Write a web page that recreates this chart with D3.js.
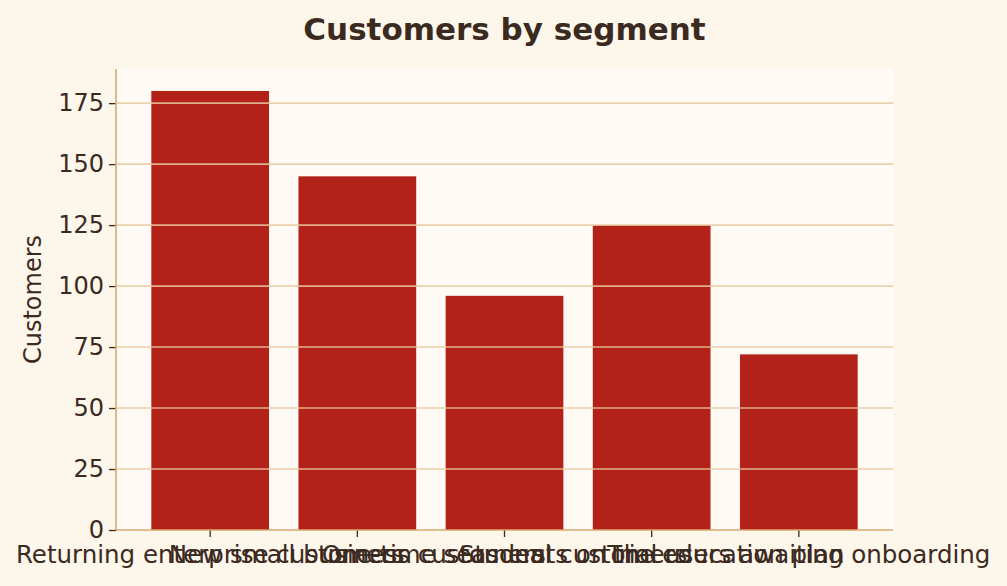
<!DOCTYPE html>
<html><head><meta charset="utf-8">
<script src="https://cdn.jsdelivr.net/npm/d3@7"></script>
<style>
html,body{margin:0;padding:0;background:#fdf6ea;}
svg{display:block;font-family:"DejaVu Sans",sans-serif;}
</style></head>
<body>
<svg id="chart" width="1007" height="586"></svg>
<script>
const categories = ["Returning enterprise customers","New small business customers","One-time seasonal customers","Students on the education plan","Trial users awaiting onboarding"];
const values = [180, 145, 96, 125, 72];
const yTicks = [0, 25, 50, 75, 100, 125, 150, 175];
const title = "Customers by segment";
const yLabel = "Customers";

const W = 1007, H = 586;
const m = {left:116, right:1007-893, top:69, bottom:586-530};
const svg = d3.select("#chart");
svg.append("rect").attr("width",W).attr("height",H).attr("fill","#fdf6ea");
const iw = W - m.left - m.right, ih = H - m.top - m.bottom;
const g = svg.append("g").attr("transform",`translate(${m.left},${m.top})`);
g.append("rect").attr("width",iw).attr("height",ih).attr("fill","#fffaf3");

const x = d3.scaleBand().domain(categories).range([0,iw]).paddingInner(0.2).paddingOuter(0.24);
const y = d3.scaleLinear().domain([0,189]).range([ih,0]);

const textCol = "#3b2a1f";
// bars
g.selectAll("rect.bar").data(values).join("rect").attr("class","bar")
  .attr("x",(d,i)=>x(categories[i])).attr("width",x.bandwidth())
  .attr("y",d=>y(d)).attr("height",d=>ih-y(d)).attr("fill","#b22218");
// grid on top
g.selectAll("line.grid").data(yTicks.filter(t=>t>0)).join("line").attr("class","grid")
  .attr("x1",0).attr("x2",iw).attr("y1",d=>y(d)).attr("y2",d=>y(d))
  .attr("stroke","#e6c9a0").attr("stroke-opacity",0.85).attr("stroke-width",1.6);

// y axis
const ya = g.append("g").call(d3.axisLeft(y).tickValues(yTicks).tickSize(7).tickPadding(5));
ya.select(".domain").remove();
ya.selectAll(".tick line").attr("stroke",textCol).attr("stroke-width",1.3);
ya.selectAll(".tick text").attr("fill",textCol).attr("font-size",24).attr("font-family","DejaVu Sans");
// x axis
const xa = g.append("g").attr("transform",`translate(0,${ih})`).call(d3.axisBottom(x).tickSize(7).tickPadding(9));
xa.select(".domain").remove();
xa.selectAll(".tick line").attr("stroke",textCol).attr("stroke-width",1.3);
xa.selectAll(".tick text").attr("fill",textCol).attr("font-size",24.5).attr("font-family","DejaVu Sans");

// spines
g.append("line").attr("x1",0).attr("x2",0).attr("y1",0).attr("y2",ih).attr("stroke","#d9aa70").attr("stroke-width",1.6);
g.append("line").attr("x1",0).attr("x2",iw).attr("y1",ih).attr("y2",ih).attr("stroke","#d9aa70").attr("stroke-width",1.6);

// labels
svg.append("text").attr("x",m.left+iw/2).attr("y",40).attr("text-anchor","middle")
  .attr("font-size",31).attr("font-weight","bold").attr("fill",textCol).text(title);
svg.append("text").attr("transform",`translate(41,${m.top+ih/2}) rotate(-90)`).attr("text-anchor","middle")
  .attr("font-size",24).attr("fill",textCol).text(yLabel);
</script>
</body></html>
